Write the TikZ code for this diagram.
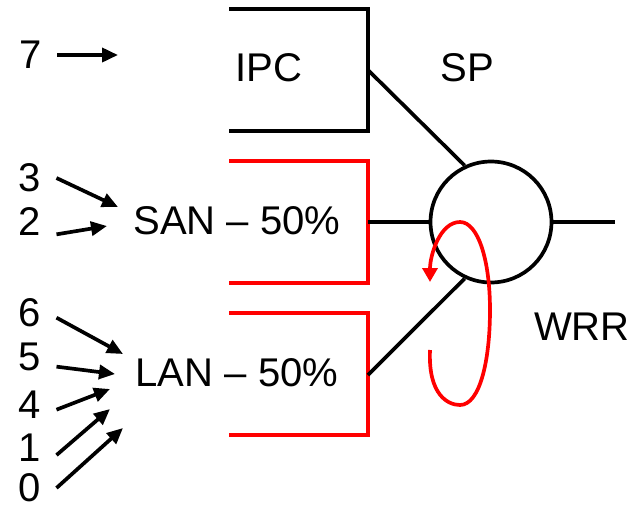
\documentclass[tikz,border=0pt]{standalone}
\usepackage{fontspec}
\setmainfont{Liberation Sans}
\usetikzlibrary{arrows.meta}
\tikzset{
txt/.style={inner sep=0pt, font=\fontsize{22.8}{27}\selectfont},
num/.style={txt, inner xsep=0.3cm, inner ysep=0pt},
feed/.style={line width=2.1pt, -{Triangle[length=0.32cm, width=0.28cm]}},
queue/.style={line width=2.1pt},
}

\begin{document}
\begin{tikzpicture}[x=0.02cm, y=-0.02cm]
\useasboundingbox (0,0) rectangle (637,508);

% queues
\draw[queue] (229,9) -| (368,131) -- (229,131);
\draw[queue, red] (229,161) -| (368,283) -- (229,283);
\draw[queue, red] (229,313) -| (368,435) -- (229,435);

\node[txt] (IPC) at (269,68) {IPC};
\node[txt] (SAN) at (237,221) {SAN – 50\%};
\node[txt] (LAN) at (237,373) {LAN – 50\%};
\node[txt] (SP) at (467,68) {SP};
\node[txt] (WRR) at (582,327) {WRR};

% scheduler
\node[circle, draw, line width=2.1pt, minimum size=2.42cm, inner sep=0pt] (S) at (491,222) {};
\coordinate (ipc out) at (368,70);
\coordinate (san out) at (368,222);
\coordinate (lan out) at (368,375);
\coordinate (sp out) at (615,222);

\draw[queue] (ipc out) -- (S.115);
\draw[queue] (san out) -- (S.west);
\draw[queue] (lan out) -- (S.245);
\draw[queue] (S.east) -- (sp out);

\draw[line width=2.1pt, red, -{Triangle[length=0.28cm, width=0.3cm]}]
  (430,350) .. controls (428,395) and (448,405) .. (460,405)
  .. controls (480,405) and (490,360) .. (490,310)
  .. controls (490,260) and (478,222) .. (460,222)
  .. controls (440,222) and (430,255) .. (430,282);

% priorities
\node[num] (n7) at (31,55) {7};
\node[num] (n3) at (30,178) {3};
\node[num] (n2) at (30,222) {2};
\node[num] (n6) at (30,313) {6};
\node[num] (n5) at (30,357) {5};
\node[num] (n4) at (30,405) {4};
\node[num] (n1) at (30,448) {1};
\node[num] (n0) at (30,488) {0};

\coordinate (t7) at (118,55);
\coordinate (t3) at (118,207);
\coordinate (t2) at (107,226);
\coordinate (t6) at (123,354);
\coordinate (t5) at (115,374);
\coordinate (t4) at (110,389);
\coordinate (t1) at (110,409);
\coordinate (t0) at (123,428);

\draw[feed] (n7.east) -- (t7);
\draw[feed] (n3.east) -- (t3);
\draw[feed] (n2.-25) -- (t2);
\draw[feed] (n6.-10) -- (t6);
\draw[feed] (n5.-20) -- (t5);
\draw[feed] (n4.-10) -- (t4);
\draw[feed] (n1.-15) -- (t1);
\draw[feed] (n0.east) -- (t0);
\end{tikzpicture}
\end{document}
